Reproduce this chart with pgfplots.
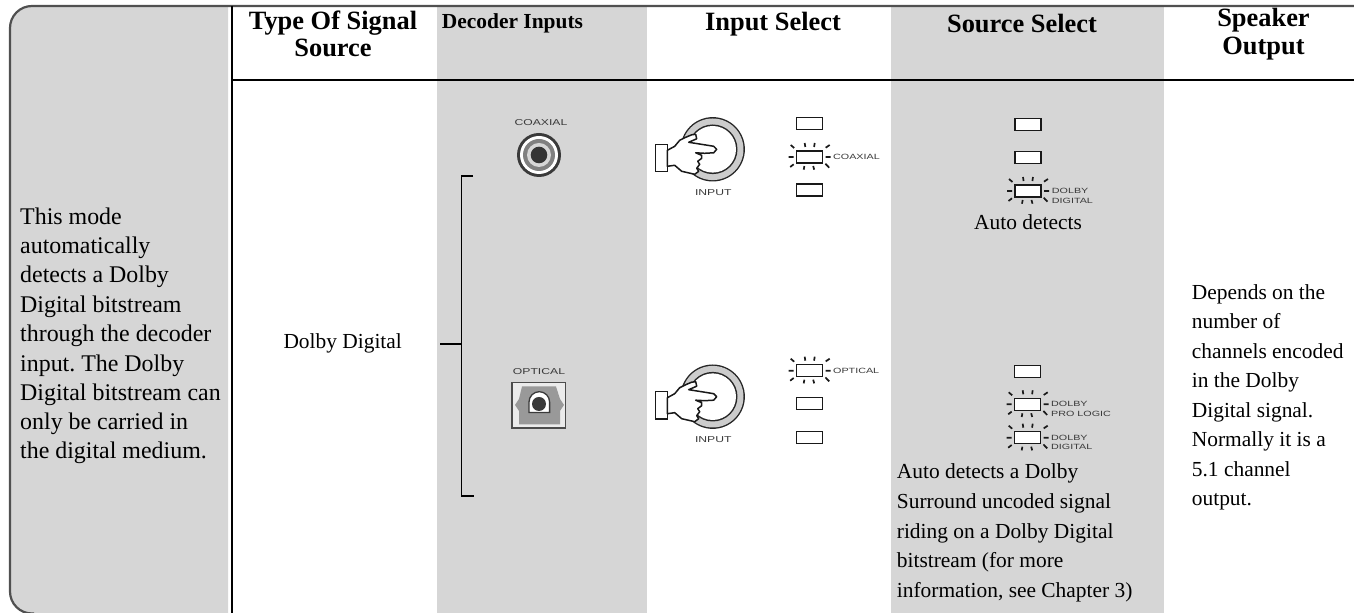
\documentclass[border=0pt]{standalone}
\usepackage{fontspec}
\usepackage{graphicx}
\usepackage{pgfplots}
\pgfplotsset{compat=1.18}
\setmainfont{Liberation Serif}
\newfontfamily\lab{Liberation Sans}
\frenchspacing
\definecolor{band}{HTML}{D6D6D6}
\definecolor{edge}{HTML}{505050}
\definecolor{icon}{HTML}{3A3A3A}
\newcommand\body{\fontsize{21.5}{24}\selectfont}
\newcommand\lft{\fontsize{24}{26}\selectfont}
\newcommand\head{\fontsize{26.5}{28}\selectfont\bfseries}
\newcommand\tl[3]{\node[anchor=base west,inner sep=0pt,font=\body] at (axis cs:#1,#2){#3};}
\newcommand\tll[3]{\node[anchor=base west,inner sep=0pt,font=\lft] at (axis cs:#1,#2){#3};}
\newcommand\tc[3]{\node[anchor=base,inner sep=0pt,font=\body] at (axis cs:#1,#2){#3};}
\newcommand\hc[3]{\node[anchor=base,inner sep=0pt,font=\head] at (axis cs:#1,#2){#3};}
% icons, in pixel units of the reference
\newcommand\led[2]{\draw[line width=1.5bp,draw=black!90,fill=white] (#1-13,#2-6) rectangle (#1+13,#2+6);}
\newcommand\lit[2]{\begin{scope}[shift={(#1,#2)}]
 \draw[line width=1.5bp,draw=black!90,fill=white] (-13,-6) rectangle (13,6);
 \draw[line width=1.7bp,black!90] (-21,0)--(-16,0) (16,0)--(21,0)
  (-19,-12)--(-15.5,-9) (-5,-14)--(-4.4,-10) (5,-14)--(4.4,-10) (20,-12)--(16,-9.3)
  (-19.5,10)--(-16,7.3) (-6,12.7)--(-5.3,9) (3.5,9)--(4.5,12.7) (15.7,6.7)--(19.5,10.7);
 \end{scope}}
\newcommand\wl[3]{\node[anchor=west,inner sep=0pt,text=icon,font=\lab\fontsize{7.6}{8}\selectfont] at (#1,#2){\scalebox{1.42}[1]{#3}};}
\newcommand\wc[3]{\node[inner sep=0pt,text=icon,font=\lab\fontsize{8.6}{9}\selectfont] at (#1,#2){\scalebox{1.42}[1]{#3}};}
\newcommand\hand[2]{\begin{scope}[shift={(#1,#2)}]
 \fill[black!85] (0,0) circle (32.2);
 \fill[black!20] (0,0) circle (30.8);
 \fill[black!85] (0,0) circle (24.8);
 \fill[white] (0,0) circle (23.3);
 \draw[line width=1.5bp,black!90,fill=white] (-57,-5) rectangle (-45.3,22.3);
 \draw[line width=1.5bp,black!90,fill=white,line join=round]
  (-45.3,1) -- (-38,-3) -- (-33,-9) -- (-27,-12) -- (-21,-14.5) -- (-17,-15) -- (-16,-10.5) -- (-24,-7)
  -- (-5,-4) -- (1,-3) -- (4,0) -- (1,3.5) -- (-8,4) -- (-17,3.5) -- (-11,6) -- (-11,9) -- (-15,12)
  -- (-13,15) -- (-16,19) -- (-14,22) -- (-18,25) -- (-31,22) -- (-38,16) -- (-45.3,17) -- cycle;
 \end{scope}}
\begin{document}
\begin{tikzpicture}
\path[use as bounding box] (0,0) rectangle (1354bp,613bp);
\begin{axis}[anchor=south west,at={(0,0)},scale only axis,width=1354bp,height=613bp,xmin=0,xmax=1354,ymin=0,ymax=613,y dir=reverse,hide axis]
% left panel and bands
\addplot[fill=band,draw=none,rounded corners=22bp] coordinates {(228,6)(10,6)(10,613.5)(228,613.5)};
\addplot[fill=band,draw=none] coordinates {(437,7)(646.5,7)(646.5,613)(437,613)};
\addplot[fill=band,draw=none] coordinates {(891,7)(1164,7)(1164,613)(891,613)};
% outer border
\addplot[draw=edge,line width=2.2bp,rounded corners=22bp] coordinates {(1354,6)(10,6)(10,613.5)(34,613.5)};
% rules
\addplot[black,line width=1.6bp] coordinates {(231.7,6)(231.7,613)};
\addplot[black,line width=1.6bp] coordinates {(231.7,80)(1354,80)};
% bracket
\addplot[black,line width=1.6bp] coordinates {(473,175.7)(461.3,175.7)(461.3,496)(474,496)};
\addplot[black,line width=1.6bp] coordinates {(440,344)(461.3,344)};
% headers
\hc{333}{30}{Type Of Signal}
\hc{333}{57}{Source}
\node[anchor=base,inner sep=0pt,font=\fontsize{21.5}{24}\selectfont\bfseries] at (axis cs:512.5,29){Decoder Inputs};
\hc{773}{31}{Input Select}
\hc{1022}{33}{Source Select}
\hc{1263.5}{27}{Speaker}
\hc{1263.5}{54.5}{Output}
% left text
\tll{20}{224}{This mode}
\tll{20}{253}{automatically}
\tll{20}{282}{detects a Dolby}
\tll{20}{312}{Digital bitstream}
\tll{20}{341}{through the decoder}
\tll{20}{371}{input. The Dolby}
\tll{20}{400}{Digital bitstream can}
\tll{20}{429}{only be carried in}
\tll{20}{458}{the digital medium.}
\tc{342.7}{348}{Dolby Digital}
\tc{1028}{229}{Auto detects}
\tl{896.7}{478}{Auto detects a Dolby}
\tl{896.7}{508}{Surround uncoded signal}
\tl{896.7}{538}{riding on a Dolby Digital}
\tl{896.7}{567}{bitstream (for more}
\tl{896.7}{597}{information, see Chapter 3)}
\tl{1191.7}{299}{Depends on the}
\tl{1191.7}{328}{number of}
\tl{1191.7}{358}{channels encoded}
\tl{1191.7}{387}{in the Dolby}
\tl{1191.7}{417}{Digital signal.}
\tl{1191.7}{446}{Normally it is a}
\tl{1191.7}{476}{5.1 channel}
\tl{1191.7}{505}{output.}
\end{axis}
\begin{scope}[shift={(0,613bp)},x=1bp,y=-1bp]
% coaxial jack
\wc{541}{123}{COAXIAL}
\fill[icon] (539,155) circle (22);
\fill[white] (539,155) circle (19);
\fill[black!50] (539,155) circle (16);
\fill[band] (539,155) circle (12);
\fill[icon!90!black] (539,155) circle (8.3);
% optical jack
\wc{539}{372}{OPTICAL}
\draw[line width=1.8bp,draw=black!70,fill=black!8] (512,382.5) rectangle (565.5,428);
\fill[black!40] (522,386.5) -- (556,386.5) -- (560,399) -- (564,405) -- (560,411) -- (560,424.5) -- (519,424.5) -- (519,411) -- (515,405) -- (519,399) -- cycle;
\draw[line width=1.3bp,draw=icon,fill=white] (529,412.5) -- (529,402) arc (180:360:10.3) -- (549.6,412.5) -- cycle;
\fill[icon] (539,404) circle (7);
% hands
\hand{712.7}{149.3}
\hand{712.7}{396.7}
\wc{713.3}{193}{INPUT}
\wc{713.3}{440}{INPUT}
% input leds
\led{809.7}{123.7}\lit{809.7}{157}\led{809.7}{190}
\wl{833}{157}{COAXIAL}
\lit{809.7}{370.7}\led{809.7}{403.7}\led{809.7}{437.3}
\wl{833}{370.7}{OPTICAL}
% source leds
\led{1028}{124.7}\led{1028}{157.7}\lit{1028}{191}
\wl{1051.7}{191}{DOLBY}\wl{1051.7}{200.7}{DIGITAL}
\led{1027.7}{371.7}\lit{1027.7}{404.3}\lit{1027.7}{437.7}
\wl{1051}{404.3}{DOLBY}\wl{1051}{414}{PRO LOGIC}
\wl{1051}{437.7}{DOLBY}\wl{1051}{447.3}{DIGITAL}
\end{scope}
\end{tikzpicture}
\end{document}
